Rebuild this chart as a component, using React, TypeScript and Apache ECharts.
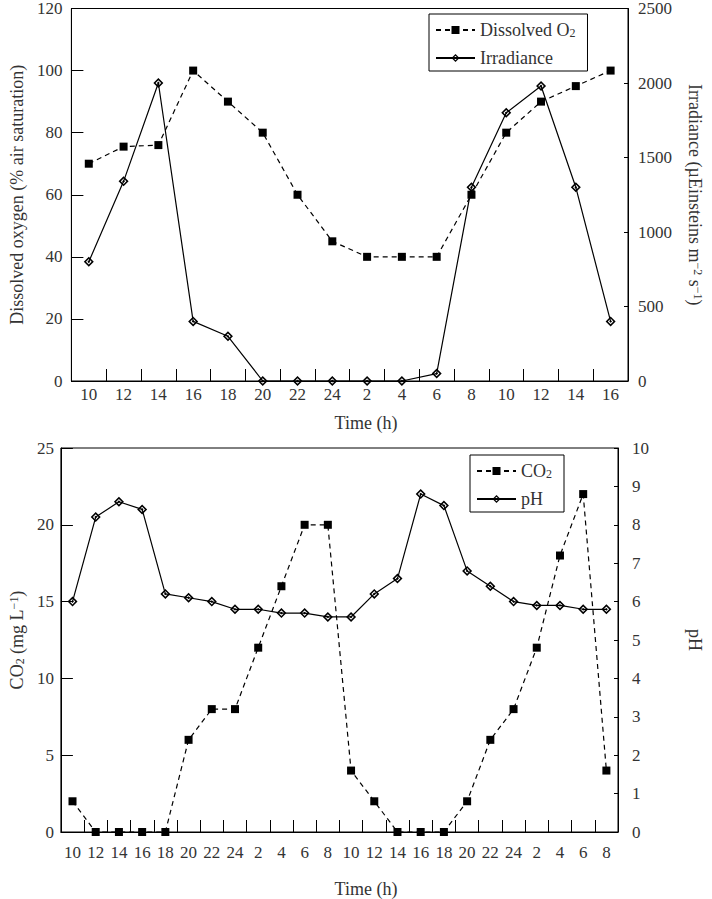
import React, { useEffect, useRef } from "react";
import * as echarts from "echarts";

const topTimes = ["10", "12", "14", "16", "18", "20", "22", "24", "2", "4", "6", "8", "10", "12", "14", "16"];
const dissolvedO2 = [70, 75.5, 76, 100, 90, 80, 60, 45, 40, 40, 40, 60, 80, 90, 95, 100];
const irradiance = [800, 1340, 2000, 400, 300, 0, 0, 0, 0, 0, 50, 1300, 1800, 1980, 1300, 400];

const bottomTimes = ["10", "12", "14", "16", "18", "20", "22", "24", "2", "4", "6", "8", "10", "12", "14", "16", "18", "20", "22", "24", "2", "4", "6", "8"];
const co2 = [2, 0, 0, 0, 0, 6, 8, 8, 12, 16, 20, 20, 4, 2, 0, 0, 0, 2, 6, 8, 12, 18, 22, 4];
const ph = [6.0, 8.2, 8.6, 8.4, 6.2, 6.1, 6.0, 5.8, 5.8, 5.7, 5.7, 5.6, 5.6, 6.2, 6.6, 8.8, 8.5, 6.8, 6.4, 6.0, 5.9, 5.9, 5.8, 5.8];

const FONT = "Liberation Serif";
const TXT = "#333";
const diamond =
  "path://M5,0 L10,5 L5,10 L0,5 Z M5,2.2 L2.2,5 L5,7.8 L7.8,5 Z M5,3.6 L6.4,5 L5,6.4 L3.6,5 Z";

const rich = {
  sub: { fontFamily: FONT, fontSize: 12, lineHeight: 8, verticalAlign: "bottom", color: TXT },
  sup: { fontFamily: FONT, fontSize: 12, lineHeight: 8, verticalAlign: "top", color: TXT },
};

const plain = (v: number) => String(v);

export default function App() {
  const ref = useRef<HTMLDivElement>(null);
  useEffect(() => {
    document.body.style.margin = "0";
    const chart = echarts.init(ref.current!, undefined, { renderer: "svg" });
    const yBase = (extra: any) => ({
      type: "value",
      splitLine: { show: false },
      axisLine: { show: true, lineStyle: { color: "#000", width: 1 } },
      nameLocation: "middle",
      nameTextStyle: { color: TXT, fontFamily: FONT, fontSize: 18, lineHeight: 18, rich },
      ...extra,
    });
    const xBase = (gridIndex: number, data: string[], margin: number) => ({
      type: "category",
      gridIndex,
      data,
      boundaryGap: true,
      axisLine: { show: true, lineStyle: { color: "#000", width: 1 } },
      axisTick: { show: true, inside: true, length: 12, lineStyle: { color: "#000" } },
      axisLabel: { color: TXT, fontFamily: FONT, fontSize: 17, interval: 0, margin },
      splitLine: { show: false },
    });
    const lineSeries = (name: string, x: number, y: number, data: number[], dashed: boolean) => ({
      name,
      type: "line",
      xAxisIndex: x,
      yAxisIndex: y,
      data,
      clip: false,
      symbol: dashed ? "rect" : diamond,
      symbolSize: dashed ? 8 : 10,
      lineStyle: { color: "#000", width: 1.2, type: dashed ? [5, 4] : "solid" },
      itemStyle: { color: "#000", borderWidth: 0 },
      z: dashed ? 3 : 2,
    });
    const legendBase = (left: number, top: number, data: string[]) => ({
      left,
      top,
      orient: "vertical",
      data,
      borderColor: "#000",
      borderWidth: 1,
      padding: [7, 12, 4, 6],
      itemGap: 10,
      itemWidth: 39,
      itemHeight: 10,
      textStyle: { color: TXT, fontFamily: FONT, fontSize: 18, lineHeight: 18, rich },
      formatter: (n: string) => (n === "Dissolved O2" ? "Dissolved O{sub|2}" : n === "CO2" ? "CO{sub|2}" : n),
    });
    chart.setOption({
      animation: false,
      backgroundColor: "#fff",
      grid: [
        { left: 63, top: 7, width: 572, height: 374, show: true, borderColor: "#000", borderWidth: 1 },
        { left: 54, top: 448, width: 571, height: 384, show: true, borderColor: "#000", borderWidth: 1 },
      ],
      xAxis: [xBase(0, topTimes, 5), xBase(1, bottomTimes, 12)],
      yAxis: [
        yBase({
          gridIndex: 0, position: "left", min: 0, max: 120, interval: 20,
          axisTick: { show: true, inside: true, length: 12, lineStyle: { color: "#000" } },
          axisLabel: { color: TXT, fontFamily: FONT, fontSize: 17, margin: 9, formatter: plain },
          name: "Dissolved oxygen (% air saturation)", nameGap: 42, nameRotate: 90,
        }),
        yBase({
          gridIndex: 0, position: "right", min: 0, max: 2500, interval: 500,
          axisTick: { show: true, inside: true, length: 4, lineStyle: { color: "#000" } },
          axisLabel: { color: TXT, fontFamily: FONT, fontSize: 17, margin: 10, formatter: plain },
          name: "Irradiance (µEinsteins m{sup|−2} s{sup|−1})", nameGap: 58, nameRotate: -90,
        }),
        yBase({
          gridIndex: 1, position: "left", min: 0, max: 25, interval: 5,
          axisTick: { show: true, inside: true, length: 12, lineStyle: { color: "#000" } },
          axisLabel: { color: TXT, fontFamily: FONT, fontSize: 17, margin: 7, formatter: plain },
          name: "CO{sub|2} (mg L{sup|−1})", nameGap: 33, nameRotate: 90,
        }),
        yBase({
          gridIndex: 1, position: "right", min: 0, max: 10, interval: 1,
          axisTick: { show: true, inside: true, length: 4, lineStyle: { color: "#000" } },
          axisLabel: { color: TXT, fontFamily: FONT, fontSize: 17, margin: 14, formatter: plain },
          name: "pH", nameGap: 68, nameRotate: -90,
        }),
      ],
      legend: [
        legendBase(429, 14, ["Dissolved O2", "Irradiance"]),
        legendBase(470, 455, ["CO2", "pH"]),
      ],
      graphic: [
        { type: "text", x: 366, y: 423, style: { text: "Time (h)", fill: TXT, font: `18px "${FONT}"`, textAlign: "center", textVerticalAlign: "middle" } },
        { type: "text", x: 366, y: 889, style: { text: "Time (h)", fill: TXT, font: `18px "${FONT}"`, textAlign: "center", textVerticalAlign: "middle" } },
      ],
      series: [
        lineSeries("Dissolved O2", 0, 0, dissolvedO2, true),
        lineSeries("Irradiance", 0, 1, irradiance, false),
        lineSeries("CO2", 1, 2, co2, true),
        lineSeries("pH", 1, 3, ph, false),
      ],
    });
    return () => chart.dispose();
  }, []);
  return <div ref={ref} style={{ width: 712, height: 899 }} />;
}
